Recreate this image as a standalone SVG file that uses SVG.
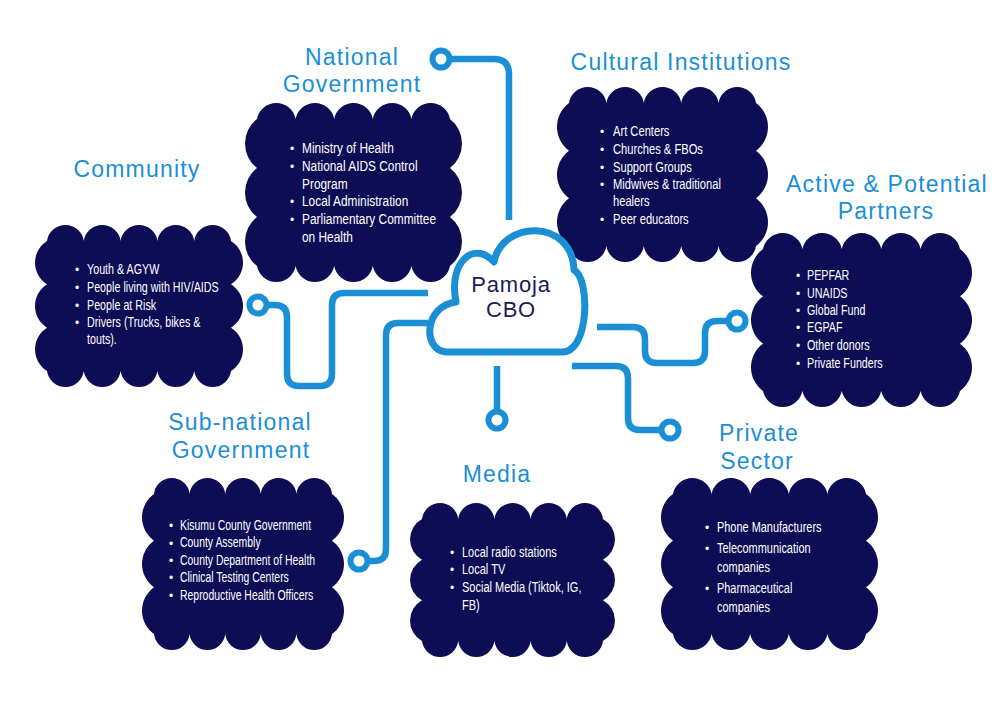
<svg xmlns="http://www.w3.org/2000/svg" width="1004" height="714" viewBox="0 0 1004 714">
<style>
.cl{fill:#0c0d55}
.ttl{font-family:"Liberation Sans",Arial,sans-serif;font-size:23px;letter-spacing:1.2px;fill:#1a8fd6;text-anchor:middle}
.bd{font-family:"Liberation Sans",Arial,sans-serif;font-size:14.5px;fill:#ffffff}
.bl{font-family:"Liberation Sans",Arial,sans-serif;font-size:12px;fill:#ffffff}
.ln{fill:none;stroke:#1a8fd6;stroke-width:6.5;stroke-linejoin:round}
.rg{fill:#ffffff;stroke:#1a8fd6;stroke-width:6}
.hub{fill:#ffffff;stroke:#1a8fd6;stroke-width:7;stroke-linejoin:round}
.hubt{font-family:"Liberation Sans",Arial,sans-serif;font-size:22px;letter-spacing:0.8px;fill:#1b1b5c;text-anchor:middle}
</style>
<rect width="1004" height="714" fill="#ffffff"/>

<g id="national-government">
<path class="cl" d="M257 119 A19.64 19.64 0 0 1 295.6 119 A19.64 19.64 0 0 1 334.2 119 A19.64 19.64 0 0 1 372.8 119 A19.64 19.64 0 0 1 411.4 119 A19.64 19.64 0 0 1 450 119 A31 31 0 0 1 450 168 A31 31 0 0 1 450 217 A31 31 0 0 1 450 266 A19.64 19.64 0 0 1 411.4 266 A19.64 19.64 0 0 1 372.8 266 A19.64 19.64 0 0 1 334.2 266 A19.64 19.64 0 0 1 295.6 266 A19.64 19.64 0 0 1 257 266 A31 31 0 0 1 257 217 A31 31 0 0 1 257 168 A31 31 0 0 1 257 119 Z"/>
<text class="ttl" x="352" y="65">National</text>
<text class="ttl" x="352" y="92">Government</text>
<g class="bl"><text x="290" y="153">•</text><text x="290" y="171">•</text><text x="290" y="206">•</text><text x="290" y="224">•</text></g>
<g class="bd" transform="translate(302 0) scale(0.82 1)">
<text x="0" y="153">Ministry of Health</text>
<text x="0" y="171">National AIDS Control</text>
<text x="0" y="189">Program</text>
<text x="0" y="206">Local Administration</text>
<text x="0" y="224">Parliamentary Committee</text>
<text x="0" y="242">on Health</text>
</g>
</g>

<g id="cultural-institutions">
<path class="cl" d="M569 103 A18.93 18.93 0 0 1 606.4 103 A18.93 18.93 0 0 1 643.8 103 A18.93 18.93 0 0 1 681.2 103 A18.93 18.93 0 0 1 718.6 103 A18.93 18.93 0 0 1 756 103 A29.67 29.67 0 0 1 756 150.67 A29.67 29.67 0 0 1 756 198.33 A29.67 29.67 0 0 1 756 246 A18.93 18.93 0 0 1 718.6 246 A18.93 18.93 0 0 1 681.2 246 A18.93 18.93 0 0 1 643.8 246 A18.93 18.93 0 0 1 606.4 246 A18.93 18.93 0 0 1 569 246 A29.67 29.67 0 0 1 569 198.33 A29.67 29.67 0 0 1 569 150.67 A29.67 29.67 0 0 1 569 103 Z"/>
<text class="ttl" x="681" y="70">Cultural Institutions</text>
<g class="bl"><text x="600" y="136">•</text><text x="600" y="154">•</text><text x="600" y="172">•</text><text x="600" y="189">•</text><text x="600" y="224">•</text></g>
<g class="bd" transform="translate(613 0) scale(0.77 1)">
<text x="0" y="136">Art Centers</text>
<text x="0" y="154">Churches &amp; FBOs</text>
<text x="0" y="172">Support Groups</text>
<text x="0" y="189">Midwives &amp; traditional</text>
<text x="0" y="206">healers</text>
<text x="0" y="224">Peer educators</text>
</g>
</g>

<g id="community">
<path class="cl" d="M47 241 A18.58 18.58 0 0 1 83.8 241 A18.58 18.58 0 0 1 120.6 241 A18.58 18.58 0 0 1 157.4 241 A18.58 18.58 0 0 1 194.2 241 A18.58 18.58 0 0 1 231 241 A25.56 25.56 0 0 1 231 284.33 A25.56 25.56 0 0 1 231 327.67 A25.56 25.56 0 0 1 231 371 A18.58 18.58 0 0 1 194.2 371 A18.58 18.58 0 0 1 157.4 371 A18.58 18.58 0 0 1 120.6 371 A18.58 18.58 0 0 1 83.8 371 A18.58 18.58 0 0 1 47 371 A25.56 25.56 0 0 1 47 327.67 A25.56 25.56 0 0 1 47 284.33 A25.56 25.56 0 0 1 47 241 Z"/>
<text class="ttl" x="137" y="177">Community</text>
<g class="bl"><text x="75" y="274">•</text><text x="75" y="292">•</text><text x="75" y="310">•</text><text x="75" y="327">•</text></g>
<g class="bd" transform="translate(87 0) scale(0.74 1)">
<text x="0" y="274">Youth &amp; AGYW</text>
<text x="0" y="292">People living with HIV/AIDS</text>
<text x="0" y="310">People at Risk</text>
<text x="0" y="327">Drivers (Trucks, bikes &amp;</text>
<text x="0" y="344">touts).</text>
</g>
</g>

<g id="active-potential-partners">
<path class="cl" d="M763 249 A20.13 20.13 0 0 1 802.4 249 A20.13 20.13 0 0 1 841.8 249 A20.13 20.13 0 0 1 881.2 249 A20.13 20.13 0 0 1 920.6 249 A20.13 20.13 0 0 1 960 249 A29.34 29.34 0 0 1 960 296.33 A29.34 29.34 0 0 1 960 343.67 A29.34 29.34 0 0 1 960 391 A20.13 20.13 0 0 1 920.6 391 A20.13 20.13 0 0 1 881.2 391 A20.13 20.13 0 0 1 841.8 391 A20.13 20.13 0 0 1 802.4 391 A20.13 20.13 0 0 1 763 391 A29.34 29.34 0 0 1 763 343.67 A29.34 29.34 0 0 1 763 296.33 A29.34 29.34 0 0 1 763 249 Z"/>
<text class="ttl" x="887" y="192">Active &amp; Potential</text>
<text class="ttl" x="886" y="219">Partners</text>
<g class="bl"><text x="796" y="280">•</text><text x="796" y="298">•</text><text x="796" y="315">•</text><text x="796" y="332">•</text><text x="796" y="350">•</text><text x="796" y="368">•</text></g>
<g class="bd" transform="translate(807 0) scale(0.74 1)">
<text x="0" y="280">PEPFAR</text>
<text x="0" y="298">UNAIDS</text>
<text x="0" y="315">Global Fund</text>
<text x="0" y="332">EGPAF</text>
<text x="0" y="350">Other donors</text>
<text x="0" y="368">Private Funders</text>
</g>
</g>

<g id="sub-national-government">
<path class="cl" d="M154 494 A17.9 17.9 0 0 1 189.6 494 A17.9 17.9 0 0 1 225.2 494 A17.9 17.9 0 0 1 260.8 494 A17.9 17.9 0 0 1 296.4 494 A17.9 17.9 0 0 1 332 494 A28.69 28.69 0 0 1 332 540.67 A28.69 28.69 0 0 1 332 587.33 A28.69 28.69 0 0 1 332 634 A17.9 17.9 0 0 1 296.4 634 A17.9 17.9 0 0 1 260.8 634 A17.9 17.9 0 0 1 225.2 634 A17.9 17.9 0 0 1 189.6 634 A17.9 17.9 0 0 1 154 634 A28.69 28.69 0 0 1 154 587.33 A28.69 28.69 0 0 1 154 540.67 A28.69 28.69 0 0 1 154 494 Z"/>
<text class="ttl" x="240" y="430">Sub-national</text>
<text class="ttl" x="241" y="458">Government</text>
<g class="bl"><text x="169" y="530">•</text><text x="169" y="547.5">•</text><text x="169" y="565">•</text><text x="169" y="582">•</text><text x="169" y="600">•</text></g>
<g class="bd" transform="translate(180 0) scale(0.72 1)">
<text x="0" y="530">Kisumu County Government</text>
<text x="0" y="547.5">County Assembly</text>
<text x="0" y="565">County Department of Health</text>
<text x="0" y="582">Clinical Testing Centers</text>
<text x="0" y="600">Reproductive Health Officers</text>
</g>
</g>

<g id="media">
<path class="cl" d="M422 519 A18.24 18.24 0 0 1 458.2 519 A18.24 18.24 0 0 1 494.4 519 A18.24 18.24 0 0 1 530.6 519 A18.24 18.24 0 0 1 566.8 519 A18.24 18.24 0 0 1 603 519 A23.23 23.23 0 0 1 603 559.67 A23.23 23.23 0 0 1 603 600.33 A23.23 23.23 0 0 1 603 641 A18.24 18.24 0 0 1 566.8 641 A18.24 18.24 0 0 1 530.6 641 A18.24 18.24 0 0 1 494.4 641 A18.24 18.24 0 0 1 458.2 641 A18.24 18.24 0 0 1 422 641 A23.23 23.23 0 0 1 422 600.33 A23.23 23.23 0 0 1 422 559.67 A23.23 23.23 0 0 1 422 519 Z"/>
<text class="ttl" x="497" y="482">Media</text>
<g class="bl"><text x="450" y="557">•</text><text x="450" y="574">•</text><text x="450" y="592">•</text></g>
<g class="bd" transform="translate(462 0) scale(0.76 1)">
<text x="0" y="557">Local radio stations</text>
<text x="0" y="574">Local TV</text>
<text x="0" y="592">Social Media (Tiktok, IG,</text>
<text x="0" y="610">FB)</text>
</g>
</g>

<g id="private-sector">
<path class="cl" d="M673 494 A19.64 19.64 0 0 1 711.6 494 A19.64 19.64 0 0 1 750.2 494 A19.64 19.64 0 0 1 788.8 494 A19.64 19.64 0 0 1 827.4 494 A19.64 19.64 0 0 1 866 494 A28.69 28.69 0 0 1 866 540.67 A28.69 28.69 0 0 1 866 587.33 A28.69 28.69 0 0 1 866 634 A19.64 19.64 0 0 1 827.4 634 A19.64 19.64 0 0 1 788.8 634 A19.64 19.64 0 0 1 750.2 634 A19.64 19.64 0 0 1 711.6 634 A19.64 19.64 0 0 1 673 634 A28.69 28.69 0 0 1 673 587.33 A28.69 28.69 0 0 1 673 540.67 A28.69 28.69 0 0 1 673 494 Z"/>
<text class="ttl" x="759" y="441">Private</text>
<text class="ttl" x="757" y="469">Sector</text>
<g class="bl"><text x="705" y="532">•</text><text x="705" y="553">•</text><text x="705" y="593">•</text></g>
<g class="bd" transform="translate(717 0) scale(0.755 1)" font-size="15.5">
<text x="0" y="532">Phone Manufacturers</text>
<text x="0" y="553">Telecommunication</text>
<text x="0" y="572">companies</text>
<text x="0" y="593">Pharmaceutical</text>
<text x="0" y="612">companies</text>
</g>
</g>

<g id="pamoja-cbo">
<path class="hub" d="M446 352 C422 350 424 306 456 302 C448 262 474 240 494 262 C502 220 572 218 574 270 C590 278 590 352 562 352 Z"/>
<text class="hubt" x="511" y="292">Pamoja</text>
<text class="hubt" x="511" y="317">CBO</text>
</g>

<g id="connectors">
<path class="ln" d="M509 220 V74 Q509 59 494 59 H450"/>
<circle class="rg" cx="441" cy="59" r="8.5"/>
<path class="ln" d="M428 293 H344 Q332 293 332 305 V374 Q332 386 320 386 H299 Q287 386 287 374 V317 Q287 305 275 305 H267"/>
<circle class="rg" cx="258" cy="305" r="8.5"/>
<path class="ln" d="M428 323 H398 Q386 323 386 335 V549 Q386 561 374 561 H368"/>
<circle class="rg" cx="359" cy="561" r="8.5"/>
<path class="ln" d="M497 366 V411"/>
<circle class="rg" cx="497" cy="420" r="8.5"/>
<path class="ln" d="M572 366 H616 Q628 366 628 378 V418 Q628 430 640 430 H661"/>
<circle class="rg" cx="670" cy="430" r="8.5"/>
<path class="ln" d="M597 327 H633 Q645 327 645 339 V351 Q645 363 657 363 H693 Q705 363 705 351 V333 Q705 321 717 321 H728"/>
<circle class="rg" cx="737" cy="321" r="8.5"/>
</g>
</svg>
